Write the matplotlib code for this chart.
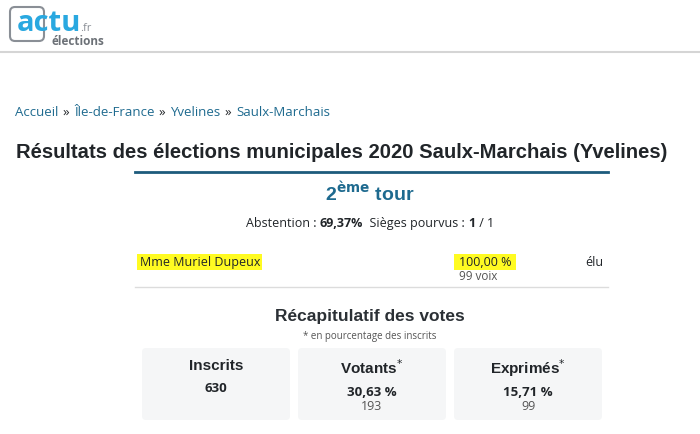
import matplotlib
matplotlib.use("Agg")
import matplotlib.pyplot as plt
from matplotlib.patches import FancyBboxPatch, Rectangle

breadcrumb = ["Accueil", "Île-de-France", "Yvelines", "Saulx-Marchais"]
title = "Résultats des élections municipales 2020 Saulx-Marchais (Yvelines)"
abstention = "69,37%"
sieges = "1"
sieges_total = "1"
candidates = ["Mme Muriel Dupeux"]
cand_pct = ["100,00 %"]
cand_voix = ["99 voix"]
cand_status = ["élu"]
recap_labels = ["Inscrits", "Votants", "Exprimés"]
recap_pct = ["630", "30,63 %", "15,71 %"]
recap_count = ["", "193", "99"]
recap_star = [False, True, True]

W, H = 700, 435
fig = plt.figure(figsize=(7, 4.35), dpi=100)
ax = fig.add_axes([0, 0, 1, 1])
ax.set_xlim(0, W); ax.set_ylim(H, 0); ax.axis("off")

BODY = "Open Sans"; HEAD = "Liberation Sans"
TEAL = "#1e6a8f"; DARK = "#212529"; GRAY = "#555"


def run(pieces, x, y, ha="left", **kw):
    """Place consecutive text pieces [(text, weight)] on one line."""
    objs = [ax.text(0, y, s, fontweight=w, va="center", **kw) for s, w in pieces]
    fig.canvas.draw()
    widths = [o.get_window_extent().width for o in objs]
    total = sum(widths)
    cur = x - total / 2 if ha == "center" else x
    for o, w in zip(objs, widths):
        o.set_x(cur); cur += w
    return cur


# logo
ax.add_patch(FancyBboxPatch((10, 8), 34, 34, boxstyle="round,pad=0,rounding_size=5",
                            fill=False, ec="#8a8f96", lw=1.5))
ax.text(17, 31, "actu", color="#29a8e0", fontsize=21, fontweight="bold", family=BODY, va="baseline")
ax.text(80, 31, ".fr", color="#8a8f96", fontsize=8, family=BODY, va="baseline")
ax.text(52, 45, "élections", color="#6c7177", fontsize=8.5, fontweight="bold", family=BODY, va="baseline")
ax.plot([0, W], [53, 53], color="#d5d5d5", lw=1.5)

# breadcrumb
x = 15
for i, b in enumerate(breadcrumb):
    t = ax.text(x, 112, b, color=TEAL, fontsize=9.5, family=BODY, va="center")
    fig.canvas.draw()
    x = t.get_window_extent().x1 + 1
    if i < len(breadcrumb) - 1:
        t2 = ax.text(x + 3, 112, "»", color=DARK, fontsize=9.5, family=BODY, va="center")
        fig.canvas.draw()
        x = t2.get_window_extent().x1 + 5

ax.text(16, 153, title, color=DARK, fontsize=14.6, fontweight="bold", family=HEAD, va="center")
ax.plot([135, 608], [173, 173], color="#1d5b7c", lw=2)
ax.text(370, 193, r"2$^{\mathbf{ème}}$ tour", color=TEAL, fontsize=14, fontweight="bold",
        family=HEAD, ha="center", va="center")
run([("Abstention : ", "normal"), (abstention, "bold"), ("  Sièges pourvus : ", "normal"),
     (sieges, "bold"), (" / ", "normal"), (sieges_total, "normal")],
    370, 224, ha="center", color=DARK, fontsize=9, family=BODY)

# candidate row
for i, c in enumerate(candidates):
    y = 263 + i * 30
    ax.add_patch(Rectangle((137, y - 8), 125, 16, color="#fffb22", lw=0))
    ax.add_patch(Rectangle((454, y - 8), 62, 16, color="#fffb22", lw=0))
    ax.text(140, y, c, color=DARK, fontsize=9, family=BODY, va="center")
    ax.text(459, y, cand_pct[i], color=DARK, fontsize=9, family=BODY, va="center")
    ax.text(459, y + 14, cand_voix[i], color=GRAY, fontsize=8.5, family=BODY, va="center")
    ax.text(585, y, cand_status[i], color=DARK, fontsize=9, family=BODY, va="center")
ax.plot([135, 608], [288, 288], color="#dcdcdc", lw=1)

ax.text(370, 317, "Récapitulatif des votes", color="#2b3035", fontsize=12.5, fontweight="bold",
        family=HEAD, ha="center", va="center")
ax.text(370, 337, "* en pourcentage des inscrits", color=GRAY, fontsize=7, family=BODY,
        ha="center", va="center")

boxes_x = [142, 298, 454]
for i, lab in enumerate(recap_labels):
    x0 = boxes_x[i]; cx = x0 + 74
    ax.add_patch(FancyBboxPatch((x0, 349), 148, 72, boxstyle="round,pad=0,rounding_size=4",
                                fc="#f5f6f7", ec="none"))
    ly = 366 if not recap_star[i] else 368
    ax.text(cx, ly, lab + ("$^{*}$" if recap_star[i] else ""), color=DARK, fontsize=11,
            fontweight="bold", family=HEAD, ha="center", va="center")
    py = 389 if not recap_star[i] else 393
    ax.text(cx, py, recap_pct[i], color=DARK, fontsize=9.5, fontweight="bold", family=BODY,
            ha="center", va="center")
    if recap_count[i]:
        ax.text(cx, 407, recap_count[i], color=GRAY, fontsize=9, family=BODY, ha="center", va="center")

fig.savefig("out.png", dpi=100)
